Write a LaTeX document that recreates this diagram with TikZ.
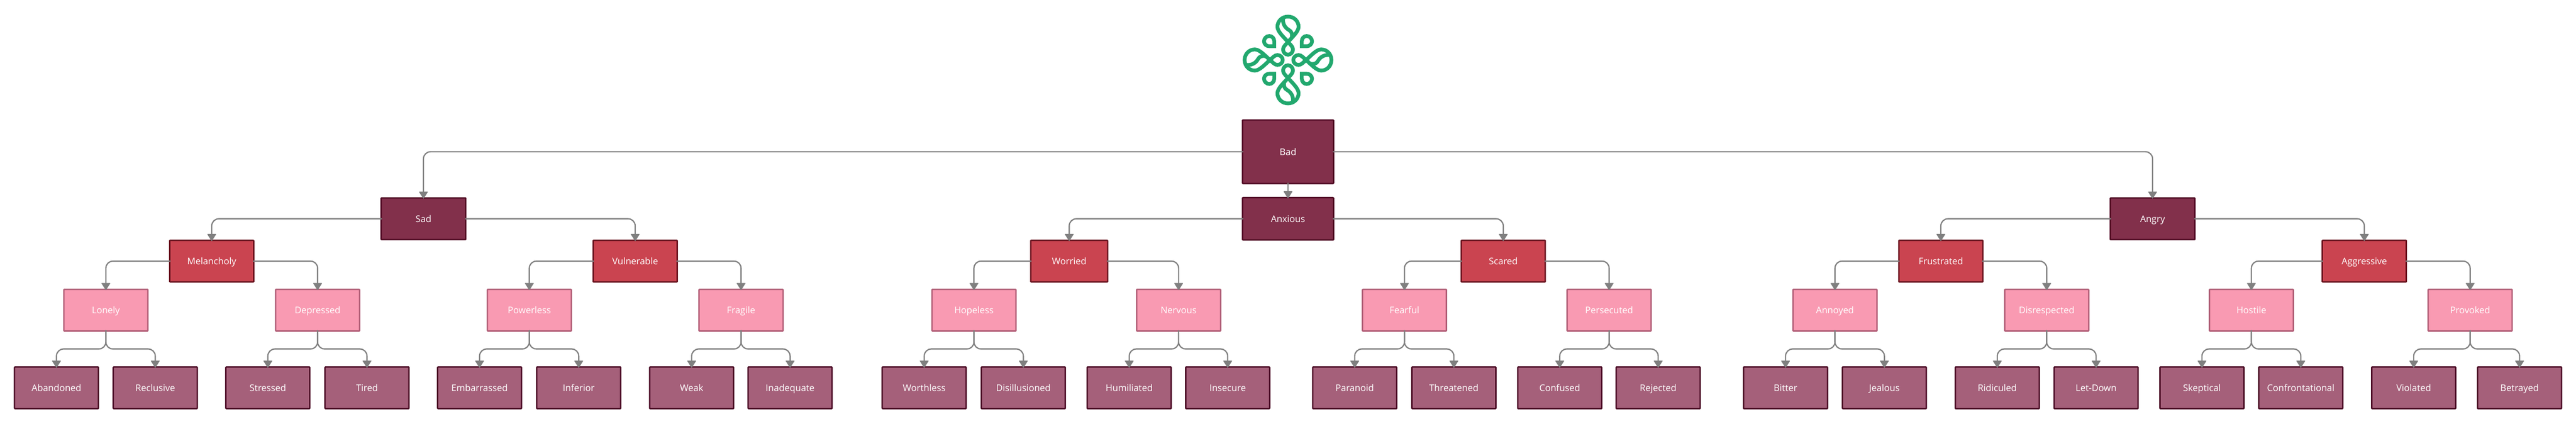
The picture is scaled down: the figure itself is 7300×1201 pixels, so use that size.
\documentclass[tikz,border=0pt]{standalone}
\usepackage{fontspec}
\setmainfont{Open Sans}
\usetikzlibrary{arrows.meta}
\definecolor{topfill}{HTML}{82304B}
\definecolor{topline}{HTML}{4F0722}
\definecolor{midfill}{HTML}{CA4450}
\definecolor{midline}{HTML}{6A1520}
\definecolor{lowfill}{HTML}{F99AB2}
\definecolor{lowline}{HTML}{B05C75}
\definecolor{leaffill}{HTML}{A5607A}
\definecolor{leafline}{HTML}{4A0A24}
\definecolor{wiregray}{HTML}{808080}
\definecolor{logogreen}{HTML}{22A86E}
\tikzset{
	box/.style={draw, text=white, inner sep=0pt, outer sep=0pt, line width=4pt, rounded corners=1.5pt, minimum width=238pt, minimum height=118pt, text height=26pt, text depth=6pt, font=\fontsize{26}{30}\selectfont},
	topbox/.style={box, fill=topfill, draw=topline},
	midbox/.style={box, fill=midfill, draw=midline},
	lowbox/.style={box, fill=lowfill, draw=lowline},
	leafbox/.style={box, fill=leaffill, draw=leafline},
	wire/.style={draw=wiregray, line width=3.5pt, line cap=round, rounded corners=20pt, -{Triangle[width=26pt,length=21pt,line width=2pt,round]}, shorten >=-2pt, shorten <=-1pt},
	petal/.pic={
		\draw[logogreen, line width=10.7pt] (0,-51) .. controls (-10,-63) and (-30,-80) .. (-30,-94) .. controls (-30,-110) and (-17,-123) .. (0,-123) .. controls (17,-123) and (30,-110) .. (30,-94) .. controls (30,-80) and (10,-63) .. (0,-51) .. controls (-6,-44) and (-14,-38) .. (-14,-30) .. controls (-14,-22) and (-8,-15) .. (0,-15) .. controls (8,-15) and (14,-22) .. (14,-30) .. controls (14,-38) and (6,-44) .. (0,-51) -- cycle;
		\draw[logogreen, line width=10.7pt, line cap=round] (-14,-119) .. controls (-16,-100) and (-6,-90) .. (2.5,-85) .. controls (10,-81) and (13,-74) .. (10.5,-63);
		\draw[logogreen, line width=10.7pt, miter limit=10] (39,-39) -- (39,-53) .. controls (39,-61) and (45,-68) .. (53,-68) .. controls (61,-68) and (68,-61) .. (68,-53) .. controls (68,-45) and (61,-39) .. (53,-39) -- cycle;
	}
}
\begin{document}
\begin{tikzpicture}[x=1pt,y=-1pt]
	\useasboundingbox (0,0) rectangle (7300,1201);
	% logo
	\coordinate (Logo) at (3650,170);
	\pic at (Logo) {petal};
	\pic[rotate=90] at (Logo) {petal};
	\pic[rotate=180] at (Logo) {petal};
	\pic[rotate=270] at (Logo) {petal};
	% boxes
	\node[topbox, minimum width=258pt, minimum height=180pt] (Bad) at (3650,430) {Bad};
	\node[topbox, minimum width=240pt] (Sad) at (1200,620) {Sad};
	\node[topbox, minimum width=258pt, minimum height=120pt] (Anxious) at (3650,620) {Anxious};
	\node[topbox, minimum width=240pt] (Angry) at (6100,620) {Angry};
	\node[midbox] (Melancholy) at (600,740) {Melancholy};
	\node[midbox] (Vulnerable) at (1800,740) {Vulnerable};
	\node[midbox, minimum width=218pt] (Worried) at (3030,740) {Worried};
	\node[midbox] (Scared) at (4260,740) {Scared};
	\node[midbox] (Frustrated) at (5500,740) {Frustrated};
	\node[midbox] (Aggressive) at (6700,740) {Aggressive};
	\node[lowbox] (Lonely) at (300,879) {Lonely};
	\node[lowbox] (Depressed) at (900,879) {Depressed};
	\node[lowbox] (Powerless) at (1500,879) {Powerless};
	\node[lowbox] (Fragile) at (2100,879) {Fragile};
	\node[lowbox] (Hopeless) at (2760,879) {Hopeless};
	\node[lowbox] (Nervous) at (3340,879) {Nervous};
	\node[lowbox] (Fearful) at (3980,879) {Fearful};
	\node[lowbox] (Persecuted) at (4560,879) {Persecuted};
	\node[lowbox] (Annoyed) at (5200,879) {Annoyed};
	\node[lowbox] (Disrespected) at (5800,879) {Disrespected};
	\node[lowbox] (Hostile) at (6380,879) {Hostile};
	\node[lowbox] (Provoked) at (7000,879) {Provoked};
	\node[leafbox] (Abandoned) at (160,1099) {Abandoned};
	\node[leafbox] (Reclusive) at (440,1099) {Reclusive};
	\node[leafbox] (Stressed) at (759,1099) {Stressed};
	\node[leafbox] (Tired) at (1040,1099) {Tired};
	\node[leafbox] (Embarrassed) at (1359,1099) {Embarrassed};
	\node[leafbox] (Inferior) at (1640,1099) {Inferior};
	\node[leafbox] (Weak) at (1960,1099) {Weak};
	\node[leafbox] (Inadequate) at (2239,1099) {Inadequate};
	\node[leafbox] (Worthless) at (2619,1099) {Worthless};
	\node[leafbox] (Disillusioned) at (2900,1099) {Disillusioned};
	\node[leafbox] (Humiliated) at (3200,1099) {Humiliated};
	\node[leafbox] (Insecure) at (3479,1099) {Insecure};
	\node[leafbox] (Paranoid) at (3839,1099) {Paranoid};
	\node[leafbox] (Threatened) at (4120,1099) {Threatened};
	\node[leafbox] (Confused) at (4420,1099) {Confused};
	\node[leafbox] (Rejected) at (4699,1099) {Rejected};
	\node[leafbox] (Bitter) at (5060,1099) {Bitter};
	\node[leafbox] (Jealous) at (5340,1099) {Jealous};
	\node[leafbox] (Ridiculed) at (5660,1099) {Ridiculed};
	\node[leafbox] (LetDown) at (5940,1099) {Let-Down};
	\node[leafbox] (Skeptical) at (6240,1099) {Skeptical};
	\node[leafbox] (Confrontational) at (6520,1099) {Confrontational};
	\node[leafbox] (Violated) at (6840,1099) {Violated};
	\node[leafbox] (Betrayed) at (7140,1099) {Betrayed};
	% connectors
	\draw[wire] (Bad.west) -| (Sad.north);
	\draw[wire] (Bad.south) -- (Anxious.north);
	\draw[wire] (Bad.east) -| (Angry.north);
	\draw[wire] (Sad.west) -| (Melancholy.north);
	\draw[wire] (Sad.east) -| (Vulnerable.north);
	\draw[wire] (Anxious.west) -| (Worried.north);
	\draw[wire] (Anxious.east) -| (Scared.north);
	\draw[wire] (Angry.west) -| (Frustrated.north);
	\draw[wire] (Angry.east) -| (Aggressive.north);
	\draw[wire] (Melancholy.west) -| (Lonely.north);
	\draw[wire] (Melancholy.east) -| (Depressed.north);
	\draw[wire] (Vulnerable.west) -| (Powerless.north);
	\draw[wire] (Vulnerable.east) -| (Fragile.north);
	\draw[wire] (Worried.west) -| (Hopeless.north);
	\draw[wire] (Worried.east) -| (Nervous.north);
	\draw[wire] (Scared.west) -| (Fearful.north);
	\draw[wire] (Scared.east) -| (Persecuted.north);
	\draw[wire] (Frustrated.west) -| (Annoyed.north);
	\draw[wire] (Frustrated.east) -| (Disrespected.north);
	\draw[wire] (Aggressive.west) -| (Hostile.north);
	\draw[wire] (Aggressive.east) -| (Provoked.north);
	\draw[wire] (Lonely.south) -- ++(0,51) -| (Abandoned.north);
	\draw[wire] (Lonely.south) -- ++(0,51) -| (Reclusive.north);
	\draw[wire] (Depressed.south) -- ++(0,51) -| (Stressed.north);
	\draw[wire] (Depressed.south) -- ++(0,51) -| (Tired.north);
	\draw[wire] (Powerless.south) -- ++(0,51) -| (Embarrassed.north);
	\draw[wire] (Powerless.south) -- ++(0,51) -| (Inferior.north);
	\draw[wire] (Fragile.south) -- ++(0,51) -| (Weak.north);
	\draw[wire] (Fragile.south) -- ++(0,51) -| (Inadequate.north);
	\draw[wire] (Hopeless.south) -- ++(0,51) -| (Worthless.north);
	\draw[wire] (Hopeless.south) -- ++(0,51) -| (Disillusioned.north);
	\draw[wire] (Nervous.south) -- ++(0,51) -| (Humiliated.north);
	\draw[wire] (Nervous.south) -- ++(0,51) -| (Insecure.north);
	\draw[wire] (Fearful.south) -- ++(0,51) -| (Paranoid.north);
	\draw[wire] (Fearful.south) -- ++(0,51) -| (Threatened.north);
	\draw[wire] (Persecuted.south) -- ++(0,51) -| (Confused.north);
	\draw[wire] (Persecuted.south) -- ++(0,51) -| (Rejected.north);
	\draw[wire] (Annoyed.south) -- ++(0,51) -| (Bitter.north);
	\draw[wire] (Annoyed.south) -- ++(0,51) -| (Jealous.north);
	\draw[wire] (Disrespected.south) -- ++(0,51) -| (Ridiculed.north);
	\draw[wire] (Disrespected.south) -- ++(0,51) -| (LetDown.north);
	\draw[wire] (Hostile.south) -- ++(0,51) -| (Skeptical.north);
	\draw[wire] (Hostile.south) -- ++(0,51) -| (Confrontational.north);
	\draw[wire] (Provoked.south) -- ++(0,51) -| (Violated.north);
	\draw[wire] (Provoked.south) -- ++(0,51) -| (Betrayed.north);
\end{tikzpicture}
\end{document}
